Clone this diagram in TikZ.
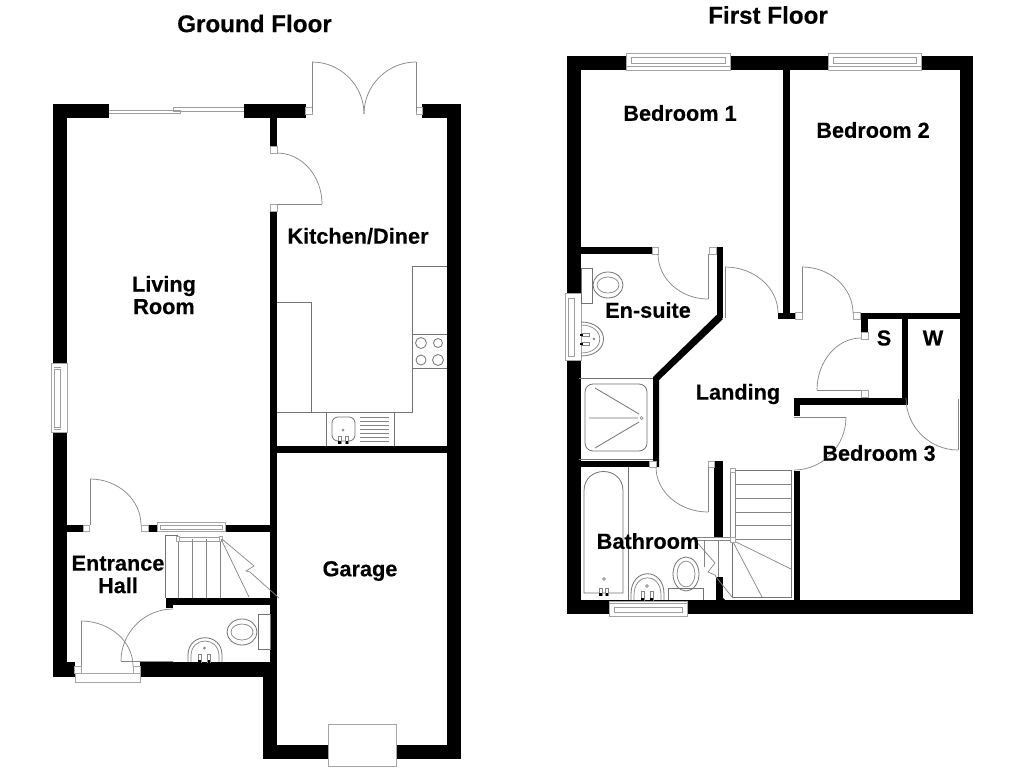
\documentclass[tikz,border=0pt]{standalone}
\usepackage{fontspec}
\setmainfont[BoldFeatures={FakeBold=0.35}]{Liberation Sans}
\usetikzlibrary{calc}
\newcommand{\qarc}[3]{\draw[thinl] (#1) .. controls ($(#1)!.55!(#2)$) and ($(#3)!.55!(#2)$) .. (#3);}
\newcommand{\wallbox}[2]{\fill[wallfill] (#1) rectangle (#2);}
\newcommand{\jambbox}[2]{\filldraw[jambline] (#1) rectangle (#2);}
\newcommand{\tapv}[3]{\fill[white] (#1-1.5,#2) rectangle (#1+1.5,#3); \draw[thinl] (#1-1.5,#2) rectangle (#1+1.5,#3); \fill[black] (#1-1.2,#3-2.5) rectangle (#1+1.2,#3+.5);}
\tikzset{
  x=1pt,y=-1pt,
  wallfill/.style={fill=black},
  thinl/.style={draw=black!48,line width=.7pt},
  lightl/.style={draw=black!38,line width=.7pt},
  fixture/.style={draw=black!55,line width=.8pt},
  jambline/.style={fill=white,draw=black!35,line width=.7pt},
  room/.style={font=\bfseries\fontsize{21.7}{22.5}\selectfont,align=center,inner sep=0pt,text=black},
  heading/.style={font=\bfseries\fontsize{24.2}{25}\selectfont,inner sep=0pt,text=black}
}
\begin{document}
\begin{tikzpicture}
\useasboundingbox (0,0) rectangle (1024,768);
\fill[white] (0,0) rectangle (1024,768);

% ===== GROUND FLOOR walls =====
\wallbox{53,103.5}{67,677}
\wallbox{53,103.5}{108.5,118}
\wallbox{244,103.5}{305.5,118}
\wallbox{422,103.5}{461,118}
\wallbox{447,103.5}{461,759}
\wallbox{270,118}{277,146}
\wallbox{270,211}{277,745}
\wallbox{277,446}{447,453}
\wallbox{263,662}{277,759}
\wallbox{263,745}{461,759}
\wallbox{140,662}{277,677}
\wallbox{53,662}{75,677}
\wallbox{67,525}{83,532}
\wallbox{148,525}{157,532}
\wallbox{225,525}{277,532}
\wallbox{166,598}{277,605}
\wallbox{166,598}{173,608}

% jambs ground floor
\jambbox{305.5,107.5}{312,114}
\jambbox{416,107.5}{422,114}
\jambbox{270.5,146}{277,153}
\jambbox{270.5,204.5}{277,211}
\jambbox{83,525.5}{89.5,531.5}
\jambbox{141,525.5}{148,531.5}
\jambbox{74.5,666}{81,673}
\jambbox{133,666}{140,673}

% doors ground floor
\draw[thinl] (312,112) -- (312,62);
\qarc{312,62}{364,62}{364,114}
\draw[thinl] (416,112) -- (416,62);
\qarc{416,62}{364,62}{364,114}
\draw[thinl] (277,204) -- (322,204);
\qarc{277,153}{322,153}{322,204}
\draw[thinl] (90,525) -- (90,479);
\qarc{90,479}{141,479}{141,525}
\draw[thinl] (81,666) -- (81,621);
\qarc{81,621}{133,621}{133,666}
\draw[thinl] (121,661) -- (173,661);
\qarc{173,609}{121,609}{121,661}

% windows ground floor
\draw[lightl] (108.5,110) -- (180,110) (108.5,113.5) -- (180,113.5) -- (180,110);
\draw[lightl] (173,110) -- (173,107) -- (244,107) (173,111) -- (244,111);
\filldraw[jambline] (51.7,363) rectangle (67,432);
\draw[lightl] (54,369) rectangle (60.5,427);
\draw[lightl] (54,367) -- (60.5,367) (54,429) -- (60.5,429);
\filldraw[jambline] (75,673) rectangle (140,682);
\filldraw[jambline] (157,522.5) rectangle (225,531.5);
\draw[lightl] (160,525.5) rectangle (222,529);
\filldraw[jambline] (328,724) rectangle (396,766);

% kitchen units
\draw[fixture] (412,266) -- (446.5,266) (412,266) -- (412,412) -- (277,412);
\draw[fixture] (412,334) -- (446.5,334) (412,368) -- (446.5,368);
\draw[fixture] (277,302) -- (311,302) -- (311,412);
\draw[fixture] (326,412) -- (326,446) (394,412) -- (394,446);
\draw[fixture] (421,343) circle[radius=5.5] (438,343) circle[radius=4.5] (421,360) circle[radius=5] (438,360) circle[radius=5.5];
\draw[fixture,rounded corners=6pt] (332,417) rectangle (355,441);
\draw[thinl] (343,430) circle[radius=1];
\tapv{339.5}{436}{443.5}
\tapv{347}{436}{443.5}
\foreach \yy in {417,421,425,429,433,437,441} \draw[thinl] (360,\yy) -- (389,\yy);

% stairs ground
\draw[fixture] (178,535) -- (165,535) -- (165,598);
\draw[thinl] (178,539) -- (178,598) (192.5,539) -- (192.5,598) (206.5,539) -- (206.5,598) (220.5,539) -- (220.5,598);
\draw[lightl] (178,537.5) -- (220.5,537.5) (178,541) -- (220.5,541);
\jambbox{176,536.5}{179.5,541}
\jambbox{219,536.5}{222.5,541}
\draw[thinl] (221,539) -- (249,597);
\draw[thinl] (222,539) -- (254,566) -- (246,571) -- (250,572) -- (279,598);

% WC and basin ground
\draw[fixture] (258,614) rectangle (270,649);
\draw[fixture] (242,632) ellipse[x radius=15,y radius=13];
\draw[thinl] (242,632) ellipse[x radius=11,y radius=8];
\draw[fixture] (188,662) -- (188,655) .. controls (188,632) and (222,632) .. (222,655) -- (222,662);
\draw[thinl] (191,662) -- (191,656) .. controls (191,636) and (219,636) .. (219,656) -- (219,662);
\draw[thinl] (204.5,648) circle[radius=1];
\tapv{199.5}{654}{662}
\tapv{209}{654}{662}

% ===== FIRST FLOOR walls =====
\wallbox{566.5,56}{580.5,614}
\wallbox{566.5,56}{973,70}
\wallbox{960,56}{973,614}
\wallbox{566.5,600}{973,614}
\wallbox{783,70}{790,319}
\wallbox{778,312.5}{795,319}
\wallbox{580,247}{652,254}
\wallbox{716.5,247}{723,318}
\fill[wallfill] (716.5,315) -- (723,319) -- (659,380) -- (659,467) -- (653,467) -- (653,377) -- cycle;
\wallbox{581,460.5}{649,467}
\wallbox{714,461}{723,537}
\wallbox{716,577}{723,600}
\fill[wallfill] (716,577) -- (716,590) -- (725,600) -- (716,600) -- cycle;
\wallbox{794,471}{800,600}
\wallbox{860,312.5}{960,319}
\wallbox{861,312.5}{868,332}
\wallbox{794,398}{905,405}
\wallbox{794,398}{800,416}
\wallbox{902,319}{908,405}

% jambs first floor
\jambbox{652,247}{658,254}
\jambbox{709,247}{716,254}
\jambbox{649,461}{656,467}
\jambbox{708,461}{714,467}
\jambbox{795,312.5}{802,319}
\jambbox{853,312.5}{860,319}
\jambbox{861,332}{868,339}
\jambbox{861,390.5}{868,397.5}

% doors first floor
\draw[thinl] (708,254) -- (708,299);
\qarc{658,254}{658,299}{708,299}
\draw[thinl] (708,467) -- (708,512);
\qarc{656,467}{656,512}{708,512}
\draw[thinl] (725,267) -- (725,318);
\qarc{725,267}{778,267}{778,313}
\draw[thinl] (802,313) -- (802,267);
\qarc{802,267}{853,267}{853,313}
\draw[thinl] (817,390) -- (861,390);
\qarc{861,338}{817,338}{817,390}
\draw[thinl] (958,399) -- (958,450);
\qarc{906,398}{906,450}{958,450}
\draw[thinl] (794,417) -- (846,417);
\qarc{846,417}{846,470}{794,470}

% windows first floor
\filldraw[jambline] (626,53.5) rectangle (730,70);
\draw[lightl] (631,57) rectangle (725,63);
\draw[lightl] (626,66) -- (730,66);
\filldraw[jambline] (828,53.5) rectangle (921,70);
\draw[lightl] (833,57) rectangle (916,63);
\draw[lightl] (828,66) -- (921,66);
\filldraw[jambline] (565,293) rectangle (581,360);
\draw[lightl] (568,298) rectangle (574,356);
\filldraw[jambline] (609,601) rectangle (687,616);
\draw[lightl] (614,607) rectangle (682,612);
\draw[lightl] (609,603.5) -- (687,603.5);

% en-suite fittings
\draw[fixture] (581,268) rectangle (592,303);
\draw[fixture] (608,285) ellipse[x radius=15,y radius=13];
\draw[thinl] (608,285) ellipse[x radius=11,y radius=8];
\draw[fixture] (581,322) .. controls (611,322) and (611,356) .. (581,356);
\draw[thinl] (581,325) .. controls (606,325) and (606,353) .. (581,353);
\draw[thinl] (594,339) circle[radius=.8];
\fill[white] (581,333.5) rectangle (589,336.5); \draw[thinl] (581,333.5) rectangle (589,336.5); \fill[black] (580,333.7) rectangle (583,336.3);
\fill[white] (581,342.5) rectangle (589,345.5); \draw[thinl] (581,342.5) rectangle (589,345.5); \fill[black] (580,342.7) rectangle (583,345.3);
\draw[fixture] (579,378) -- (653,378);
\draw[fixture,rounded corners=8pt] (585,384) rectangle (647,451);
\draw[fixture] (579,459) -- (653,459);
\draw[thinl] (641.5,418) circle[radius=1.5];
\draw[fixture] (595,388) -- (639,414) (589,418) -- (638,418) (595,448) -- (639,422);

% bathroom fittings
\draw[fixture] (628,467) -- (628,600);
\draw[fixture] (584,593) -- (584,491) .. controls (584,465) and (623,465) .. (623,491) -- (623,593) -- cycle;
\draw[thinl] (604,579) circle[radius=1.3];
\tapv{600.5}{588}{595.5}
\tapv{607}{588}{595.5}
\draw[fixture] (631,600) -- (631,594) .. controls (631,567) and (664,567) .. (664,594) -- (664,600);
\draw[thinl] (634,600) -- (634,595) .. controls (634,572) and (661,572) .. (661,595) -- (661,600);
\draw[thinl] (647,586) circle[radius=1.3];
\tapv{642.5}{591}{600}
\tapv{651.5}{591}{600}
\draw[fixture] (668,600) -- (668,588) -- (703,588) -- (703,600);
\draw[fixture] (686,574) ellipse[x radius=13,y radius=17];
\draw[thinl] (686,574) ellipse[x radius=9,y radius=13];

% stairs first
\draw[thinl] (730,470) -- (730,540) (735,470) -- (735,540);
\jambbox{730,468}{735,472.5}
\draw[fixture] (735,470) -- (791,470) -- (791,597) -- (732,597) -- (732,540);
\foreach \yy in {484,498,512,525,539} \draw[thinl] (735,\yy) -- (791,\yy);
\draw[thinl] (732,540) -- (791,569) (732,540) -- (762,597);
\draw[thinl] (695,537) -- (730,537) (695,540) -- (732,540);
\draw[thinl] (704,540) -- (704,567) (718,540) -- (718,577);
\draw[thinl] (695,540) -- (715,563) -- (708,572) -- (715,575) -- (716,577) -- (732,597);
\jambbox{730,537.5}{735,542}

% ===== text =====
\node[heading] (gf) at (254.5,23.5) {Ground Floor};
\node[heading] (ff) at (768,15) {First Floor};
\node[room] (living) at (164,295) {Living\\Room};
\node[room] (kitchen) at (358,236) {Kitchen/Diner};
\node[room] (hall) at (118,574.5) {Entrance\\Hall};
\node[room] (garage) at (360,571) {Garage};
\node[room] (bed1) at (680,113) {Bedroom 1};
\node[room] (bed2) at (873,130) {Bedroom 2};
\node[room] (bed3) at (879,453) {Bedroom 3};
\node[room] (ensuite) at (648,310) {En-suite};
\node[room] (landing) at (738,394) {Landing};
\node[room] (s) at (884,338) {S};
\node[room] (w) at (933,338) {W};
\node[room] (bath) at (648,541) {Bathroom};
\end{tikzpicture}
\end{document}
